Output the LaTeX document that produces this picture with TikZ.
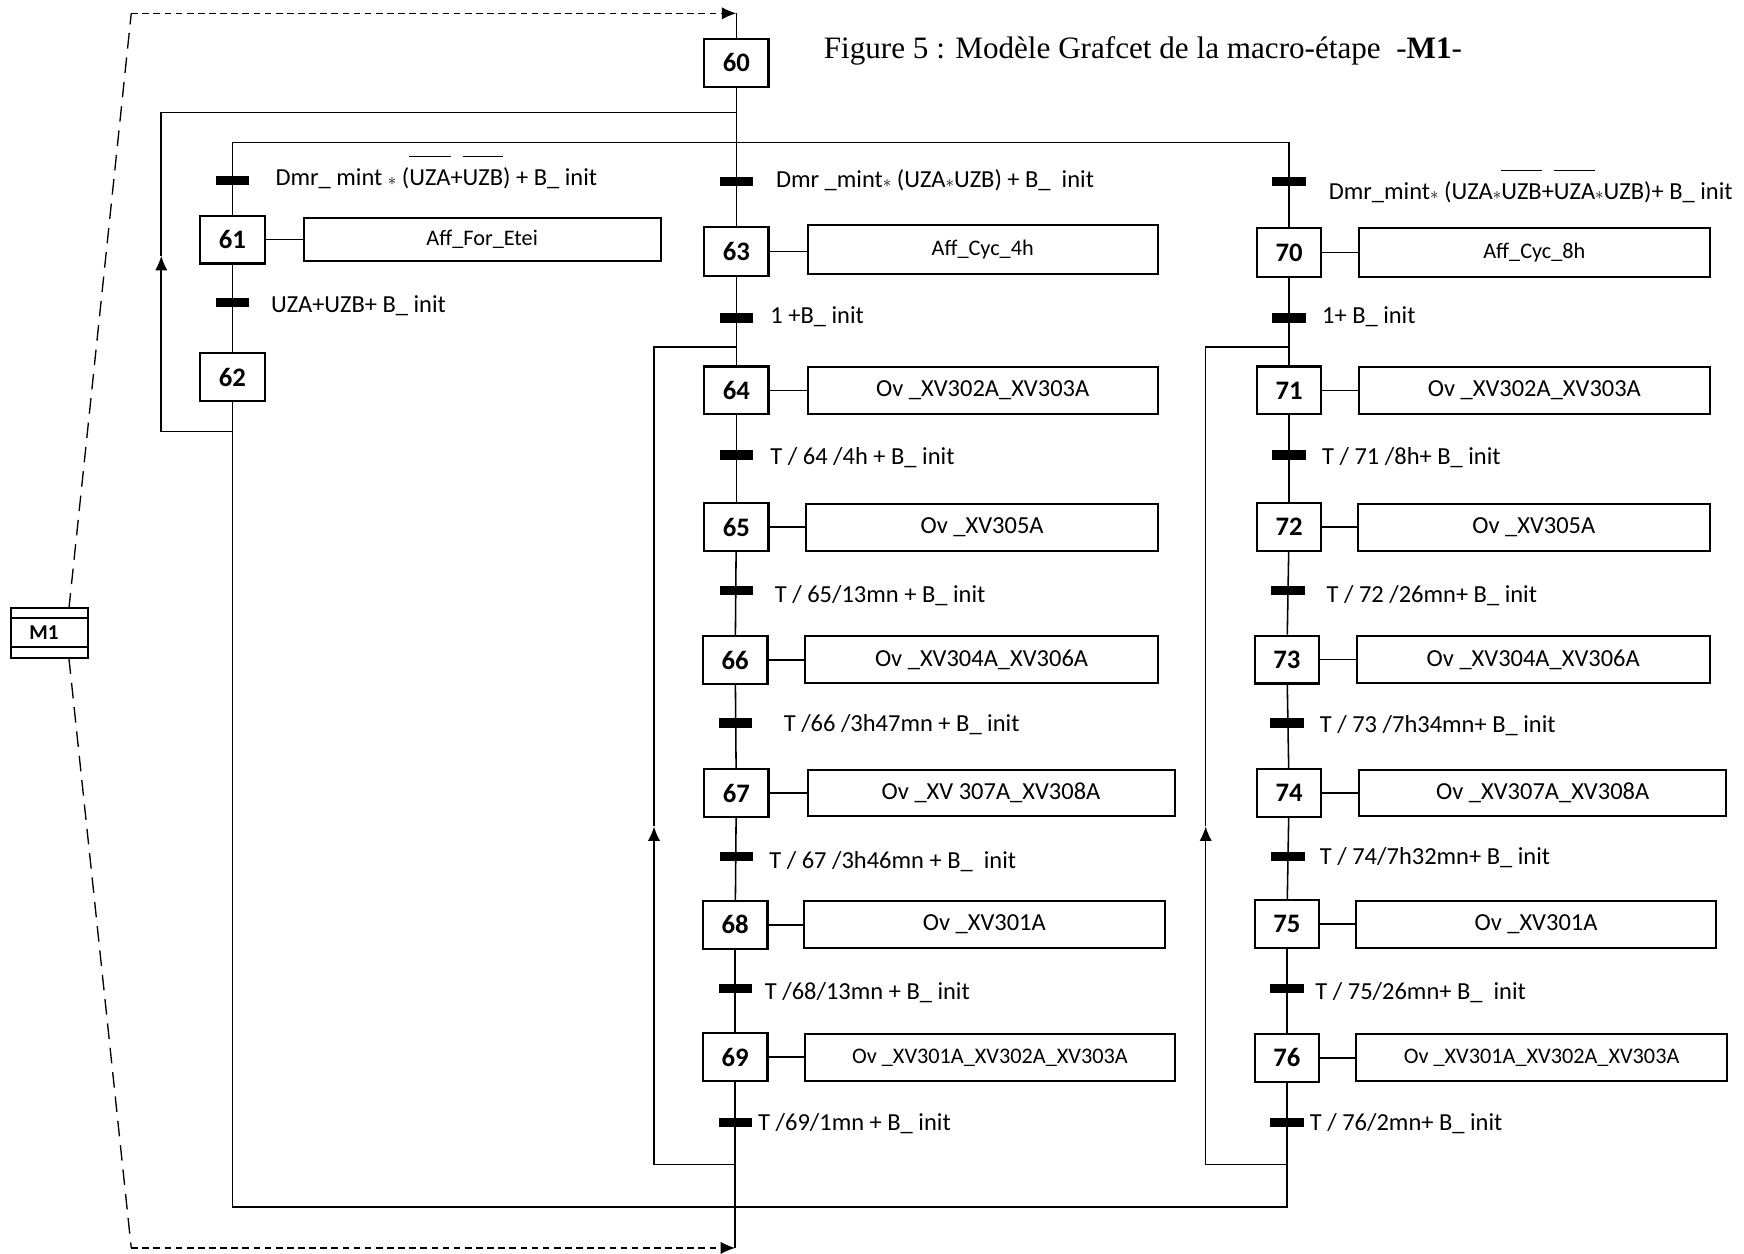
\documentclass[tikz,border=0pt]{standalone}
\usepackage{fontspec}
\setmainfont{Carlito}
\newfontfamily\titlefont{Liberation Serif}
\usetikzlibrary{arrows.meta}
\newcommand{\mstar}{\scalebox{0.7}{$\ast$}}
\newcommand{\ovl}[1]{$\overline{\raisebox{0pt}[1.05em]{#1}}$}
\begin{document}
\begin{tikzpicture}[x=0.5pt,y=-0.5pt,
  line width=0.7pt,
  stepbox/.style={draw, line width=1pt, minimum width=29pt, minimum height=21.5pt, inner sep=0pt, font=\bfseries\fontsize{12}{12}\selectfont},
  actbox/.style={draw, line width=0.9pt, minimum height=21pt, inner sep=0pt, font=\fontsize{11}{12}\selectfont},
  actsmall/.style={actbox, font=\fontsize{10}{11}\selectfont},
  trbar/.style={fill=black, draw=none, minimum width=15pt, minimum height=4.2pt, inner sep=0pt},
  lbl/.style={anchor=base west, inner sep=0pt, font=\fontsize{11}{13}\selectfont},
  dashA/.style={dash pattern=on 7pt off 4pt, line width=0.6pt},
  dashB/.style={dash pattern=on 3pt off 2pt, line width=0.6pt},
  arr/.style={-{Latex[length=6.5pt,width=5.5pt]}}
]
\useasboundingbox (0,0) rectangle (1568,1127);

% title
\node[anchor=base west, inner sep=0pt, font=\titlefont\fontsize{14}{16}\selectfont] (title) at (740,53) {Figure 5 : Modèle Grafcet de la macro-étape\ \ -\textbf{M1}-};

% macro step M1
\node[draw, line width=0.9pt, minimum width=34.5pt, minimum height=22.5pt, inner sep=0pt, font=\bfseries\fontsize{9.5}{10}\selectfont] (m1) at (44.5,569) {\hspace*{-5pt}M1};
\draw[line width=0.9pt] (m1.north west) ++(0,10) -- ++(69,0);
\draw[line width=0.9pt] (m1.south west) ++(0,-11) -- ++(69,0);

% steps
\node[stepbox] (s60) at (662,56.5) {60};
\node[stepbox] (s61) at (209,215.5) {61};
\node[stepbox] (s62) at (209,339) {62};
\node[stepbox, minimum height=22pt] (s63) at (662,226) {63};
\node[stepbox] (s64) at (662,351) {64};
\node[stepbox] (s65) at (662,474) {65};
\node[stepbox] (s66) at (661,593.5) {66};
\node[stepbox] (s67) at (662,713) {67};
\node[stepbox] (s68) at (661,831.5) {68};
\node[stepbox] (s69) at (661,950.5) {69};
\node[stepbox, minimum height=22pt] (s70) at (1159,227) {70};
\node[stepbox] (s71) at (1159,351) {71};
\node[stepbox] (s72) at (1159,474) {72};
\node[stepbox] (s73) at (1157,593) {73};
\node[stepbox] (s74) at (1159,713) {74};
\node[stepbox] (s75) at (1157,831) {75};
\node[stepbox] (s76) at (1157,951) {76};

% actions
\node[actsmall, minimum width=160.5pt, minimum height=19.5pt] (a61) at (433.5,215.5) {Aff\_For\_Etei};
\node[actsmall, minimum width=157.5pt, minimum height=22pt] (a63) at (883.5,224) {Aff\_Cyc\_4h};
\node[actbox, minimum width=157.5pt] (a64) at (883.5,351) {Ov \_XV302A\_XV303A};
\node[actbox, minimum width=158pt] (a65) at (883,474) {Ov \_XV305A};
\node[actbox, minimum width=158.5pt] (a66) at (882.5,593) {Ov \_XV304A\_XV306A};
\node[actbox, minimum width=165pt] (a67) at (891,713) {Ov \_XV 307A\_XV308A};
\node[actbox, minimum width=162pt] (a68) at (885,831) {Ov \_XV301A};
\node[actsmall, minimum width=166pt] (a69) at (890,951) {Ov \_XV301A\_XV302A\_XV303A};
\node[actsmall, minimum width=157.5pt, minimum height=22pt] (a70) at (1379.5,227) {Aff\_Cyc\_8h};
\node[actbox, minimum width=157.5pt] (a71) at (1379.5,351) {Ov \_XV302A\_XV303A};
\node[actbox, minimum width=158pt] (a72) at (1379,474) {Ov \_XV305A};
\node[actbox, minimum width=158.5pt] (a73) at (1378.5,593) {Ov \_XV304A\_XV306A};
\node[actbox, minimum width=165pt] (a74) at (1387,713) {Ov \_XV307A\_XV308A};
\node[actbox, minimum width=162pt] (a75) at (1381,831) {Ov \_XV301A};
\node[actsmall, minimum width=167pt] (a76) at (1386,951) {Ov \_XV301A\_XV302A\_XV303A};

\foreach \n in {61,63,64,65,66,67,68,69,70,71,72,73,74,75,76}
  \draw (s\n.east) -- (s\n.east -| a\n.west);

% coordinates
\coordinate (top) at (662,12);
\coordinate (bot) at (661,1122);
\coordinate (m1t) at (62,547);
\coordinate (m1b) at (62,592);
\coordinate (dt) at (118,12);
\coordinate (db) at (118,1122);
\coordinate (j1) at (662,101);
\coordinate (j1l) at (145,101);
\coordinate (l62) at (145,388);
\coordinate (l62b) at (209,388);
\coordinate (l62arr) at (145,230);
\coordinate (d1) at (209,128);
\coordinate (d2) at (1159,128);
\coordinate (c1) at (209,1085);
\coordinate (c2) at (1157,1085);
\coordinate (ml1) at (661,1047);
\coordinate (ml2) at (588,1047);
\coordinate (mlarr) at (588,743);
\coordinate (ml3) at (588,312);
\coordinate (ml4) at (662,312);
\coordinate (rl1) at (1157,1047);
\coordinate (rl2) at (1084,1047);
\coordinate (rlarr) at (1084,743);
\coordinate (rl3) at (1084,312);
\coordinate (rl4) at (1159,312);

% dashed macro links
\draw[dashA] (m1t) -- (dt);
\draw[dashB, arr] (dt) -- (top);
\draw[dashA] (m1b) -- (db);
\draw[dashB, arr] (db) -- (bot);

% main links
\draw (top) -- (s60.north);
\draw (s60.south) -- (s63.north);
\draw (s61.north) -- (d1) -- (d2) -- (s70.north);
\draw (s61) -- (s62);
\draw (s62.south) -- (c1) -- (c2) -- (s76.south);
\draw (l62b) -- (l62);
\draw[arr] (l62) -- (l62arr);
\draw (l62arr) -- (j1l) -- (j1);
\foreach \a/\b in {63/64,64/65,65/66,66/67,67/68,68/69,70/71,71/72,72/73,73/74,74/75,75/76}
  \draw (s\a) -- (s\b);
\draw (s69.south) -- (bot);
\draw (ml1) -- (ml2);
\draw[arr] (ml2) -- (mlarr);
\draw (mlarr) -- (ml3) -- (ml4);
\draw (rl1) -- (rl2);
\draw[arr] (rl2) -- (rlarr);
\draw (rlarr) -- (rl3) -- (rl4);

% transition bars
\node[trbar] (tr1) at (209,162) {};
\node[trbar] (tr2) at (209,272) {};
\node[trbar] (tr3) at (662,163) {};
\node[trbar] (tr4) at (662,286) {};
\node[trbar] (tr5) at (662,409) {};
\node[trbar] (tr6) at (662,531) {};
\node[trbar] (tr7) at (661,650) {};
\node[trbar] (tr8) at (662,770) {};
\node[trbar] (tr9) at (661,889) {};
\node[trbar] (tr10) at (661,1009) {};
\node[trbar] (tr11) at (1159,163) {};
\node[trbar] (tr12) at (1159,286) {};
\node[trbar] (tr13) at (1159,409) {};
\node[trbar] (tr14) at (1158,531) {};
\node[trbar] (tr15) at (1157,650) {};
\node[trbar] (tr16) at (1158,770) {};
\node[trbar] (tr17) at (1157,889) {};
\node[trbar] (tr18) at (1157,1009) {};

% transition labels
\node[lbl] (l1) at (247,167) {Dmr\_ mint \mstar{} (\ovl{UZA}+\ovl{UZB}) + B\_ init};
\node[lbl] (l2) at (243,281) {UZA+UZB+ B\_ init};
\node[lbl] (l3) at (697,169) {Dmr \_mint\mstar{} (UZA\mstar{}UZB) + B\_\ \ init};
\node[lbl] (l4) at (692,291) {1 +B\_ init};
\node[lbl] (l5) at (692,418) {T / 64 /4h + B\_ init};
\node[lbl] (l6) at (696,542) {T / 65/13mn + B\_ init};
\node[lbl] (l7) at (704,658) {T /66 /3h47mn + B\_ init};
\node[lbl] (l8) at (691,781) {T / 67 /3h46mn + B\_\ \ init};
\node[lbl] (l9) at (687,899) {T /68/13mn + B\_ init};
\node[lbl] (l10) at (681,1016) {T /69/1mn + B\_ init};
\node[lbl] (l11) at (1194,179) {Dmr\_mint\mstar{} (UZA\mstar\ovl{UZB}+\ovl{UZA}\mstar{}UZB)+ B\_ init};
\node[lbl] (l12) at (1188,291) {1+ B\_ init};
\node[lbl] (l13) at (1188,418) {T / 71 /8h+ B\_ init};
\node[lbl] (l14) at (1192,542) {T / 72 /26mn+ B\_ init};
\node[lbl] (l15) at (1186,659) {T / 73 /7h34mn+ B\_ init};
\node[lbl] (l16) at (1186,777) {T / 74/7h32mn+ B\_ init};
\node[lbl] (l17) at (1182,899) {T / 75/26mn+ B\_\ \ init};
\node[lbl] (l18) at (1177,1016) {T / 76/2mn+ B\_ init};
\end{tikzpicture}
\end{document}
